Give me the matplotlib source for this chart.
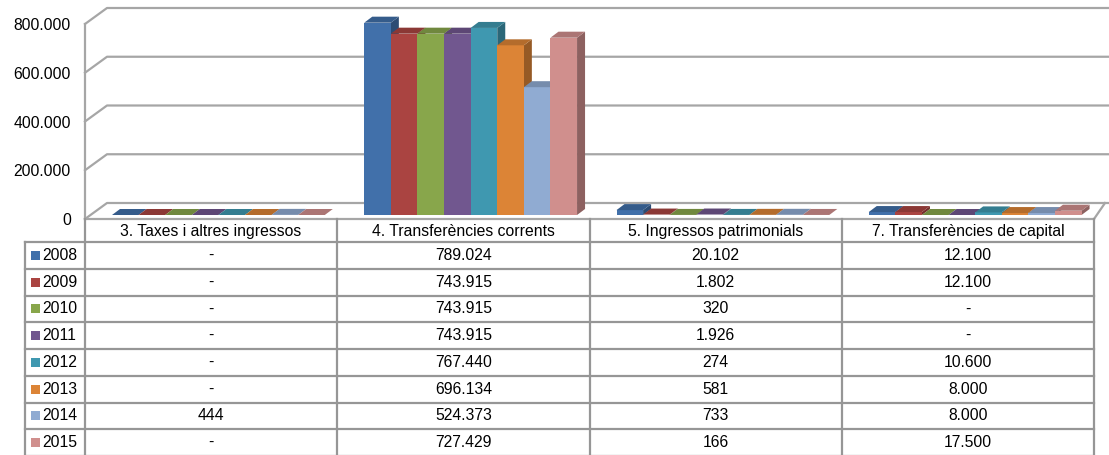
import matplotlib.pyplot as plt
import numpy as np
from matplotlib.patches import Polygon, Rectangle

plt.rcParams['font.family'] = ['Liberation Sans', 'DejaVu Sans']

years = ['2008', '2009', '2010', '2011', '2012', '2013', '2014', '2015']
categories = ['3. Taxes i altres ingressos', '4. Transferències corrents',
              '5. Ingressos patrimonials', '7. Transferències de capital']

# None = "-" in the table
taxes = [None, None, None, None, None, None, 444, None]
transf_corrents = [789024, 743915, 743915, 743915, 767440, 696134, 524373, 727429]
patrimonials = [20102, 1802, 320, 1926, 274, 581, 733, 166]
transf_capital = [12100, 12100, None, None, 10600, 8000, 8000, 17500]
series_by_cat = [taxes, transf_corrents, patrimonials, transf_capital]

colors = ['#4170aa', '#aa4441', '#88a64b', '#71578f', '#3f98b0', '#dc8436', '#90abd2', '#d08f8d']
yticks = [0, 200000, 400000, 600000, 800000]

W, H = 1109, 455
GRID = '#a6a6a6'
FS = 11.3


def fmt(v):
    if v is None:
        return '-'
    return f'{v:,}'.replace(',', '.')


def shade(c, f):
    r, g, b = [int(c[i:i + 2], 16) / 255 for i in (1, 3, 5)]
    return (r * f, g * f, b * f)


fig = plt.figure(figsize=(W / 100, H / 100), dpi=100)
fig.patch.set_facecolor('white')

# chart axes: x in category units, y in data units (front plane of the bars)
left_px, right_px, base_px, top_px = 85, 1094, 215, 20
ax = fig.add_axes([left_px / W, (H - base_px) / H, (right_px - left_px) / W, (base_px - top_px) / H])
ax.set_xlim(0, 4)
ax.set_ylim(0, 800000)
ax.axis('off')

PX_X = 4 / (right_px - left_px)
PX_Y = 800000 / (base_px - top_px)

# walls and gridlines
front_dy = -4 * PX_Y
back_dx, back_dy = 22 * PX_X, 12 * PX_Y
x_end = (W - left_px) * PX_X
for v in yticks:
    ax.plot([0, back_dx, x_end], [v + front_dy, v + back_dy, v + back_dy],
            color=GRID, lw=1.6, clip_on=False, zorder=1)
    ax.text(-14 * PX_X, v + front_dy - 1.5 * PX_Y, fmt(v) if v else '0', ha='right', va='center',
            fontsize=FS, clip_on=False)
ax.plot([0, 0], [front_dy, 800000 + front_dy], color=GRID, lw=1.6, clip_on=False, zorder=1)
ax.plot([0, 4], [front_dy, front_dy], color=GRID, lw=1.6, clip_on=False, zorder=1)
ax.plot([4, (1105 - left_px) * PX_X], [front_dy, back_dy], color=GRID, lw=1.6, clip_on=False, zorder=1)

# 3D-ish bars
bw = 26.6 * PX_X
off0 = 27 * PX_X
ddx, ddy = 8 * PX_X, 6 * PX_Y
z = 2
for ci, vals in enumerate(series_by_cat):
    for j, v in enumerate(vals):
        h = v if v is not None else 0
        x = ci + off0 + j * bw
        c = colors[j]
        ax.add_patch(Polygon([(x + bw, 0), (x + bw + ddx, ddy), (x + bw + ddx, h + ddy), (x + bw, h)],
                             closed=True, fc=shade(c, 0.68), ec='none', zorder=z, clip_on=False))
        ax.add_patch(Rectangle((x, 0), bw, h, fc=c, ec='none', zorder=z + 1, clip_on=False))
        ax.add_patch(Polygon([(x, h), (x + bw, h), (x + bw + ddx, h + ddy), (x + ddx, h + ddy)],
                             closed=True, fc=shade(c, 0.82), ec='none', zorder=z + 2, clip_on=False))
        z += 3

# data table
tax = fig.add_axes([0, 0, 1, 1])
tax.set_xlim(0, W)
tax.set_ylim(H, 0)
tax.axis('off')
tax.patch.set_alpha(0)

col_edges = [left_px + i * (right_px - left_px) / 4 for i in range(5)]
key_left = 25
head_top, head_bot = 219, 242
row_h = (H + 1 - head_bot) / len(years)
TB = '#969696'

for x in col_edges:
    tax.plot([x, x], [head_top, H], color=TB, lw=1.6)
tax.plot([key_left, key_left], [head_bot, H], color=TB, lw=1.6)
for r in range(len(years) + 1):
    y = head_bot + r * row_h
    tax.plot([key_left, col_edges[-1]], [y, y], color=TB, lw=1.6)

for ci, name in enumerate(categories):
    cx = (col_edges[ci] + col_edges[ci + 1]) / 2
    tax.text(cx, (head_top + head_bot) / 2 + 1, name, ha='center', va='center', fontsize=FS)
    for r, v in enumerate(series_by_cat[ci]):
        tax.text(cx, head_bot + (r + 0.5) * row_h, fmt(v), ha='center', va='center', fontsize=FS)

for r, yr in enumerate(years):
    cy = head_bot + (r + 0.5) * row_h
    tax.add_patch(Rectangle((31, cy - 4.5), 9, 9, fc=colors[r], ec='none'))
    tax.text(42, cy, yr, ha='left', va='center', fontsize=FS)

fig.savefig('out.png', dpi=100, facecolor='white')
